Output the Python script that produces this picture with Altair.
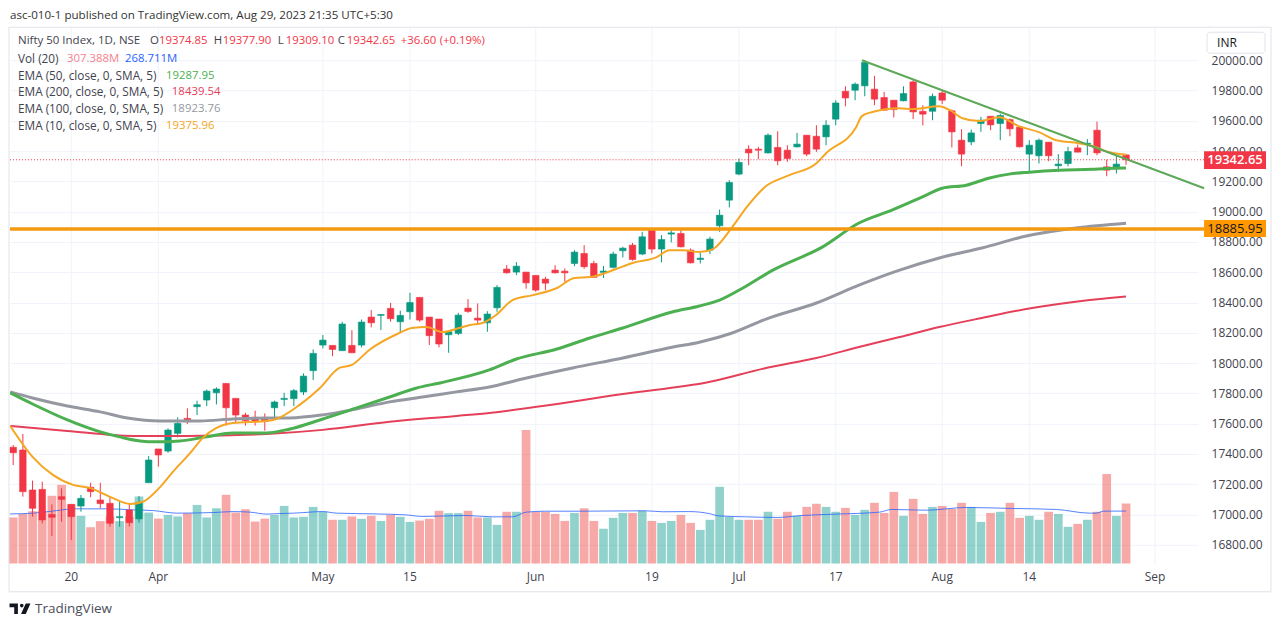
import altair as alt
import pandas as pd

opens = [17444,17426,17162,17166,17000,17118,17067,17056,17180,17096,17074,16979,17030,16971,17210,17433,17419,17536,17635,17712,
17756,17804,17866,17767,17657,17642,17642,17705,17760,17765,17809,17950,18119,18117,18082,18117,18119,18304,18315,18361,
18273,18339,18434,18304,18291,18187,18196,18363,18297,18266,18365,18621,18601,18601,18579,18555,18614,18607,18658,18724,
18658,18599,18632,18742,18779,18720,18878,18753,18852,18856,18746,18684,18746,18907,19076,19248,19413,19413,19388,19424,
19406,19428,19505,19498,19494,19611,19795,19802,19831,19809,19754,19736,19732,19857,19663,19663,19784,19666,19472,19461,
19582,19630,19582,19608,19558,19380,19369,19459,19303,19318,19421,19446,19538,19296,19289,19374.85]
closes = [17408,17151,17041,16964,16982,17100,16986,17107,17151,17072,16942,16986,16946,17080,17360,17393,17558,17602,17613,17725,
17815,17829,17705,17657,17620,17615,17615,17743,17767,17818,17914,18064,18152,18090,18258,18068,18271,18266,18321,18293,
18315,18400,18284,18181,18126,18207,18317,18341,18284,18324,18500,18596,18640,18530,18482,18528,18596,18596,18733,18636,
18566,18608,18720,18759,18684,18834,18753,18816,18860,18768,18662,18693,18819,18977,19193,19325,19388,19406,19505,19336,
19351,19446,19380,19413,19571,19718,19751,19842,19985,19743,19670,19674,19780,19659,19644,19762,19736,19527,19380,19520,
19604,19573,19635,19547,19428,19439,19472,19369,19314,19397,19393,19452,19388,19274,19314,19342.65]
highs = [17459,17532,17224,17217,17067,17173,17067,17129,17210,17210,17118,17085,17074,17122,17386,17433,17569,17642,17701,17752,
17826,17840,17866,17767,17672,17686,17668,17752,17804,17829,17932,18090,18185,18117,18273,18218,18288,18350,18321,18398,
18346,18464,18434,18304,18291,18211,18332,18423,18394,18343,18515,18647,18667,18601,18579,18570,18647,18625,18746,18779,
18676,18641,18735,18768,18794,18867,18889,18845,18889,18889,18757,18728,18834,19014,19208,19351,19439,19428,19516,19531,
19439,19520,19505,19571,19604,19736,19828,19853,20000,19897,19791,19736,19828,19868,19703,19780,19802,19674,19545,19542,
19626,19630,19648,19615,19558,19472,19483,19459,19380,19428,19443,19479,19595,19344,19373,19377.90]
lows = [17327,17118,16986,16942,16858,16953,16832,17019,17114,17041,16920,16920,16920,16946,17210,17316,17408,17510,17598,17657,
17716,17727,17587,17602,17587,17587,17554,17624,17716,17716,17789,17888,18097,18046,18082,18068,18104,18236,18218,18273,
18200,18288,18273,18119,18104,18068,18185,18332,18251,18207,18339,18592,18581,18491,18471,18482,18592,18537,18640,18623,
18566,18562,18625,18698,18676,18713,18724,18665,18797,18764,18658,18658,18720,18867,19028,19241,19307,19347,19384,19307,
19329,19424,19366,19395,19439,19571,19696,19736,19762,19703,19670,19622,19729,19611,19569,19604,19710,19424,19300,19439,
19527,19538,19472,19498,19424,19256,19318,19333,19263,19300,19393,19373,19373,19234,19252,19309.10]
volumes = [236,254,268,268,347,403,304,244,186,217,241,217,241,343,261,230,249,241,258,300,
236,283,352,261,278,215,230,249,295,236,239,290,266,224,224,241,229,244,218,249,
239,213,220,229,270,258,258,270,236,236,198,265,265,684,265,265,254,218,259,283,
218,178,234,259,259,270,218,208,218,249,208,172,224,393,239,224,224,224,265,229,
265,244,290,306,290,265,285,249,275,311,259,367,244,331,254,290,295,280,311,290,
213,259,265,311,234,244,224,265,254,188,203,224,265,459,244,307.388]

ema10_idx = [-0.3,2,4.1,6.2,7.9,10,12.1,13.4,15.2,16.5,18.3,19.6,21,22.7,26.2,27.2,29.6,31.7,33.7,35,36.8,39.9,41.2,42.7,44.4,46.1,47.2,48.5,49.9,51.6,53.7,56.2,58,59.6,62.3,64,66.5,67.8,69.2,70.9,72.3,74.3,75.8,77.8,80.2,83,84,87.1,87.7,88.7,91.6,92.9,95.7,96.8,98.1,99.8,101.9,103.9,106,107.8,110.1,111.9,112.9,115]
ema10_val = [17585,17381,17262,17196,17176,17117,17070,17084,17183,17282,17407,17506,17572,17605,17618,17631,17724,17836,17968,17988,18087,18199,18232,18238,18205,18232,18252,18265,18318,18416,18449,18496,18562,18568,18621,18661,18700,18746,18746,18733,18753,18898,19030,19169,19241,19320,19386,19558,19631,19657,19683,19677,19696,19670,19617,19598,19624,19565,19525,19472,19452,19426,19400,19375.96]
ema50_idx = [-0.3,2,5.6,9,11,13.1,14.8,17.2,20,22.7,26.2,28.6,32,35.5,38.9,41.7,44.1,49.2,52,56.2,59.6,63,68.1,70.9,73,75.4,78.5,83.6,87.4,90.8,93.9,96,98.5,100.8,102.9,105,108.1,111.5,113,115]
ema50_val = [17803,17730,17625,17546,17513,17486,17480,17486,17513,17539,17539,17565,17631,17704,17776,17836,17869,17955,18027,18093,18166,18232,18337,18377,18416,18496,18614,18766,18925,19010,19096,19155,19175,19221,19248,19261,19274,19280,19285,19287.95]
ema100_idx = [-0.3,2,5.6,9,11.8,15.2,19.3,22.7,26.8,28.6,32,35,38.9,42.3,45.8,49.2,52.6,57.8,63,68.1,70.9,74.3,77.8,83,87.4,91.6,95.7,100.1,104.7,109.8,115]
ema100_val = [17810,17770,17717,17678,17638,17618,17618,17631,17638,17638,17658,17691,17744,17776,17810,17842,17895,17968,18034,18105,18138,18199,18291,18397,18515,18614,18694,18760,18839,18892,18923.76]
ema200_idx = [-0.3,5.6,12.4,17.9,26.2,32,38.9,45.8,49.2,56.2,63,71.9,77.8,83,87.4,91.6,95.7,100.1,105.3,110.4,115]
ema200_val = [17585,17552,17519,17519,17532,17559,17612,17651,17671,17730,17796,17875,17968,18034,18106,18172,18238,18298,18364,18410,18439.54]
volsma_idx = [-0.33,2.1,4.5,6.2,9.65,12.4,14.5,16.9,20.7,22.7,24.5,26.2,27.5,29,32,33.4,37.5,40.6,42.3,46.8,49.5,51.6,53,55,58.5,65.4,67.1,69.9,71.9,72.9,75.7,79,81.5,85,89.5,90.8,94.3,98.5,103.2,107.8,111.2,111.9,112.7,115]
volsma_val = [254,258,271,280,280,275,271,258,261,266,263,253,256,258,266,258,254,249,241,246,239,239,263,268,268,270,265,266,256,244,239,236,246,253,263,277,273,287,282,277,258,258,268,268.711]

trend_idx = [87.7,123.07]
trend_val = [20000,19155]
level_price = [18885.95]
last_price = [19342.65]
price_ticks = [16800,17000,17200,17400,17600,17800,18000,18200,18400,18600,18800,19000,19200,19400,19600,19800,20000]
tick_idx = [6,15,32,41,54,66,75,85,96,105,118]
tick_text = ["20","Apr","May","15","Jun","19","Jul","17","Aug","14","Sep"]

FONT = "Open Sans"
GREEN, RED = "#089981", "#f23645"
TXT = "#3f434e"
PW, PH = 1189, 538
OX, OY = 10, 27

df = pd.DataFrame({"i": range(len(opens)), "o": opens, "c": closes, "h": highs, "l": lows, "v": volumes})
df["up"] = df.c >= df.o
ticks = pd.DataFrame({"i": tick_idx, "t": tick_text})

xs = alt.Scale(domain=[-0.33, 122.44], nice=False, zero=False, padding=0)
ys = alt.Scale(domain=[16668, 20218], nice=False, zero=False)
vs = alt.Scale(domain=[-6.7, 2748], nice=False, zero=False)
X = alt.X("i:Q", scale=xs, axis=None, title=None)
Y = lambda f: alt.Y(f, scale=ys, axis=None, title=None)
dircol = lambda a, b: alt.condition("datum.up", alt.value(a), alt.value(b))

def series(ix, val):
    return pd.DataFrame({"i": ix, "p": val})

def line(ix, val, color, w, interp="monotone", op=1):
    return alt.Chart(series(ix, val)).mark_line(color=color, strokeWidth=w, interpolate=interp, opacity=op, clip=False).encode(x=X, y=Y("p:Q"))

base = alt.Chart(series(ema200_idx, ema200_val)).mark_line(opacity=0).encode(
    x=X,
    y=alt.Y("p:Q", scale=ys, title=None, axis=alt.Axis(values=price_ticks, format=".2f", orient="right", grid=True, gridColor="#f0f3fa",
        gridWidth=1, domain=False, ticks=False, labelFont=FONT, labelFontSize=12, labelColor=TXT, labelPadding=13, labelAlign="left", labelOverlap=False)),
)
vgrid = alt.Chart(ticks).mark_rule(color="#f0f3fa", strokeWidth=1).encode(x=X)
xlabels = alt.Chart(ticks).mark_text(font=FONT, fontSize=12, color=TXT, baseline="middle", align="center").encode(
    x=X, y=alt.value(577 - OY), text="t:N")

vol = alt.Chart(df).mark_bar(size=8.7, orient="vertical", opacity=0.5).encode(
    x=X, y=alt.Y("v:Q", scale=vs, axis=None, title=None), color=dircol("#26a69a", "#ef5350"))
volsma = alt.Chart(pd.DataFrame({"i": volsma_idx, "v": volsma_val})).mark_line(color="#2962ff", strokeWidth=1, opacity=0.8, interpolate="monotone").encode(
    x=X, y=alt.Y("v:Q", scale=vs, axis=None, title=None))

wick = alt.Chart(df).mark_rule(strokeWidth=1).encode(x=X, y=Y("l:Q"), y2="h:Q", color=dircol(GREEN, RED))
body = alt.Chart(df).mark_bar(size=6.5, orient="vertical", strokeWidth=0.6).encode(
    x=X, y=Y("o:Q"), y2="c:Q", color=dircol(GREEN, RED), stroke=dircol(GREEN, RED))

dotted = alt.Chart(pd.DataFrame({"p": last_price})).mark_rule(color=RED, strokeDash=[1, 2], strokeWidth=1).encode(
    y=Y("p:Q"), x=alt.value(0), x2=alt.value(1195))
level = alt.Chart(pd.DataFrame({"p": level_price})).mark_rule(color="#f49a11", strokeWidth=3.5).encode(
    y=Y("p:Q"), x=alt.value(0), x2=alt.value(1195))

def box(x0, y0, x1, y1, **kw):
    return alt.Chart().mark_rect(**kw).encode(x=alt.value(x0 - OX), x2=alt.value(x1 - OX), y=alt.value(y0 - OY), y2=alt.value(y1 - OY))

def label(t, x, y, color=TXT, size=12, align="left", **kw):
    return alt.Chart().mark_text(text=t, font=FONT, fontSize=size, color=color, align=align, baseline="middle", **kw).encode(
        x=alt.value(x - OX), y=alt.value(y - OY))

frame = box(9, 27, 1272, 592, fill="transparent", stroke="#e0e3eb", strokeWidth=1)
inr = box(1208, 32, 1266, 53, fill="white", stroke="#e0e3eb", strokeWidth=1, cornerRadius=3)
redbox = box(1205, 151, 1267, 169, fill=RED)
orgbox = box(1205, 220, 1267, 237, fill="#ff9800")

logo_path = ("M-1,-0.5 H-0.2 V0.5 H-0.55 V-0.15 H-1 Z "
             "M0.0,-0.3 A0.17,0.17 0 1 1 0.34,-0.3 A0.17,0.17 0 1 1 0,-0.3 Z "
             "M0.55,-0.5 H1 L0.55,0.5 H0.1 Z")
logo = alt.Chart().mark_point(shape=logo_path, size=440, filled=True, fill="#131722", opacity=1, strokeWidth=0).encode(
    x=alt.value(20 - OX), y=alt.value(609 - OY))

NUM = 11.4
texts = [
    label("asc-010-1 published on TradingView.com, Aug 29, 2023 21:35 UTC+5:30", 10, 15.5, "#333333", 11.6),
    label("Nifty 50 Index, 1D, NSE", 18, 41, size=11.5),
    label("O", 150, 41, size=NUM), label("19374.85", 159, 41, RED, NUM),
    label("H", 214, 41, size=NUM), label("19377.90", 223, 41, RED, NUM),
    label("L", 278, 41, size=NUM), label("19309.10", 286, 41, RED, NUM),
    label("C", 338, 41, size=NUM), label("19342.65", 347, 41, RED, NUM),
    label("+36.60", 401, 41, RED, NUM), label("(+0.19%)", 440, 41, RED, NUM),
    label("Vol (20)", 18, 59, size=11.8), label("307.388M", 67, 59, "#f7828d", NUM), label("268.711M", 125, 59, "#2962ff", NUM),
    label("EMA (50, close, 0, SMA, 5)", 18, 76, size=11.8), label("19287.95", 166, 76, "#4caf50", NUM),
    label("EMA (200, close, 0, SMA, 5)", 18, 92, size=11.8), label("18439.54", 172, 92, "#e5405a", NUM),
    label("EMA (100, close, 0, SMA, 5)", 18, 109, size=11.8), label("18923.76", 172, 109, "#9598a1", NUM),
    label("EMA (10, close, 0, SMA, 5)", 18, 126, size=11.8), label("19375.96", 166, 126, "#f5a623", NUM),
    label("INR", 1218, 43, "#131722"),
    label("19342.65", 1236, 160, "white", 13, "center", fontWeight=600),
    label("18885.95", 1236, 229, "#131722", 13, "center"),
    label("TradingView", 35, 609, "#4a4e59", 13.5),
]

chart = alt.layer(
    base, vgrid, vol, volsma,
    wick, body,
    line(ema200_idx, ema200_val, "#e5405a", 2),
    line(ema100_idx, ema100_val, "#9598a1", 3),
    line(ema50_idx, ema50_val, "#4caf50", 3),
    line(ema10_idx, ema10_val, "#f5a623", 2),
    line(trend_idx, trend_val, "#5ea85a", 2, "linear"),
    dotted, level, frame, inr, redbox, orgbox, logo, xlabels, *texts,
).resolve_scale(y="independent").properties(
    width=PW, height=PH,
    autosize=alt.AutoSizeParams(type="none"),
    padding={"left": 2, "top": 19, "right": 75, "bottom": 55},
).configure_view(strokeWidth=0)

chart.save("out.html", embed_options={"renderer": "svg", "actions": False})
